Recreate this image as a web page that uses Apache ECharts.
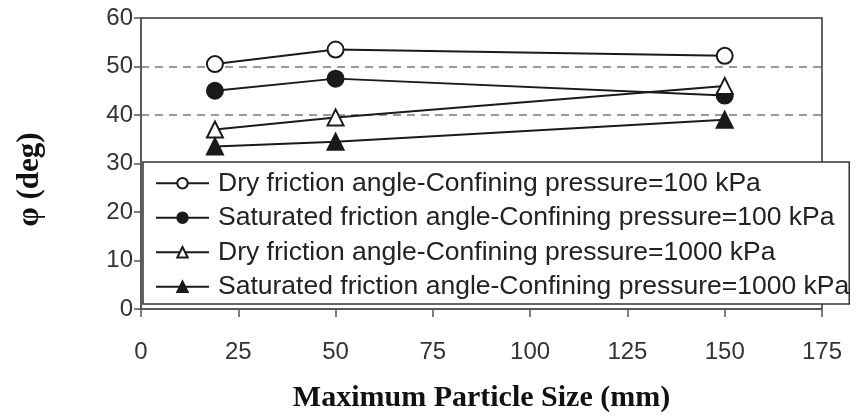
<!DOCTYPE html>
<html>
<head>
<meta charset="utf-8">
<script src="https://cdn.jsdelivr.net/npm/echarts@6/dist/echarts.min.js"></script>
<style>html,body{margin:0;padding:0;background:#fff}#c{width:856px;height:418px}</style>
</head>
<body>
<div id="c"></div>
<script>
const particleSize = [19, 50, 150];
const dry100 = [50.5, 53.5, 52.2];
const sat100 = [45, 47.5, 44];
const dry1000 = [37, 39.5, 46];
const sat1000 = [33.5, 34.5, 39];
const seriesNames = [
  'Dry friction angle-Confining pressure=100 kPa',
  'Saturated friction angle-Confining pressure=100 kPa',
  'Dry friction angle-Confining pressure=1000 kPa',
  'Saturated friction angle-Confining pressure=1000 kPa'
];
const xTitle = 'Maximum Particle Size (mm)';
const yTitle = '\u03c6 (deg)';

const chart = echarts.init(document.getElementById('c'));
const ink = '#1a1a1a';
function mk(name, vals, symbol, filled) {
  return {
    name: name, type: 'line',
    data: particleSize.map((x, i) => [x, vals[i]]),
    symbol: symbol, symbolSize: 16,
    showAllSymbol: true,
    lineStyle: { color: ink, width: 2 },
    itemStyle: { color: filled ? ink : '#fff', borderColor: ink, borderWidth: 2 },
    emphasis: { disabled: true },
    animation: false
  };
}
chart.setOption({
  animation: false,
  grid: { left: 141, right: 34, top: 18, bottom: 106, show: true, borderColor: '#333', borderWidth: 1.5, backgroundColor: 'transparent' },
  xAxis: {
    type: 'value', min: 0, max: 175, interval: 25,
    name: xTitle, nameLocation: 'middle', nameGap: 74,
    nameTextStyle: { fontFamily: 'Liberation Serif', fontWeight: 'bold', fontSize: 30, color: '#111' },
    axisLine: { show: true, lineStyle: { color: '#555', width: 1.5 } },
    axisTick: { show: true, length: 8, inside: false, lineStyle: { color: '#555', width: 1.5 } },
    axisLabel: { margin: 31, fontFamily: 'Liberation Sans', fontSize: 24, color: '#333' },
    splitLine: { show: false }
  },
  yAxis: {
    type: 'value', min: 0, max: 60, interval: 10,
    name: yTitle, nameLocation: 'middle', nameGap: 96, nameRotate: 90,
    nameTextStyle: { fontFamily: 'Liberation Serif', fontWeight: 'bold', fontSize: 31, color: '#111', padding: [0, 32, 0, 0] },
    axisLine: { show: true, lineStyle: { color: '#555', width: 1.5 } },
    axisTick: { show: true, length: 7, lineStyle: { color: '#555', width: 1.5 } },
    axisLabel: { margin: 8, fontFamily: 'Liberation Sans', fontSize: 24, color: '#333' },
    splitLine: { show: true, showMinLine: false, showMaxLine: false, lineStyle: { color: '#999', width: 2, type: [8, 6] } }
  },
  legend: {
    orient: 'vertical', left: 143, top: 162,
    backgroundColor: '#fff', borderColor: '#333', borderWidth: 1.5, borderRadius: 0,
    padding: [7, 0, 3, 12], itemGap: 6, itemWidth: 53, itemHeight: 13,
    textStyle: { fontFamily: 'Liberation Sans', fontSize: 26.5, lineHeight: 28.5, color: '#222', padding: [0, 0, 0, 4] },
    data: seriesNames, selectedMode: false, z: 10
  },
  series: [
    mk(seriesNames[0], dry100, 'circle', false),
    mk(seriesNames[1], sat100, 'circle', true),
    mk(seriesNames[2], dry1000, 'triangle', false),
    mk(seriesNames[3], sat1000, 'triangle', true)
  ]
});
</script>
</body>
</html>
